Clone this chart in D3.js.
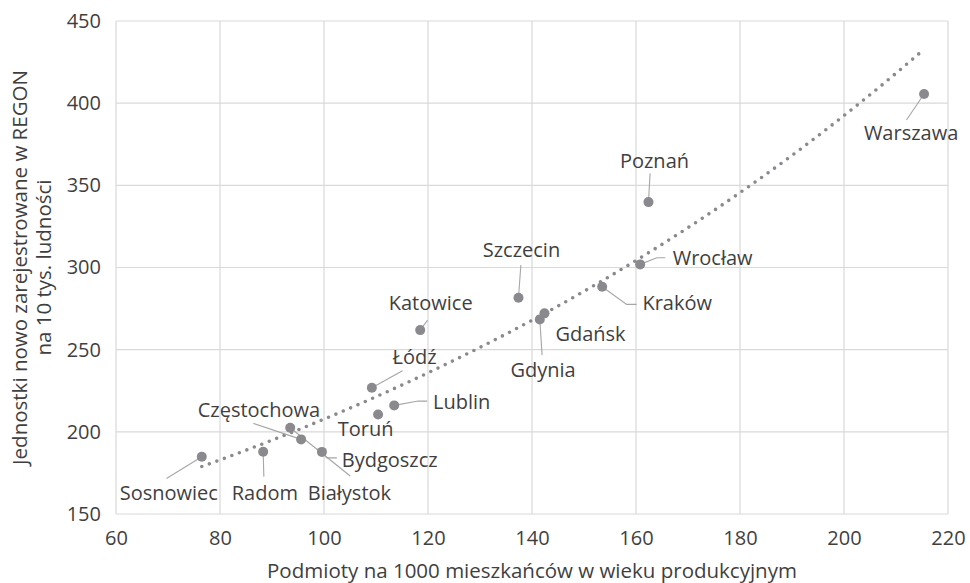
<!DOCTYPE html>
<html lang="pl">
<head>
<meta charset="utf-8">
<script src="https://cdn.jsdelivr.net/npm/d3@7"></script>
<style>
  html, body { margin: 0; padding: 0; background: #ffffff; }
  svg { display: block; font-family: "Open Sans", "Noto Sans", sans-serif; }
</style>
</head>
<body>
<svg id="chart" width="970" height="583"></svg>
<script>
// Cities and their values
const cities = ["Warszawa", "Poznań", "Wrocław", "Kraków", "Gdańsk", "Gdynia", "Szczecin",
  "Katowice", "Łódź", "Lublin", "Toruń", "Bydgoszcz", "Białystok", "Częstochowa", "Radom", "Sosnowiec"];
// Podmioty na 1000 mieszkańców w wieku produkcyjnym
const entitiesPer1000 = [215.4, 162.4, 160.8, 153.5, 142.4, 141.5, 137.4,
  118.5, 109.2, 113.5, 110.4, 99.6, 93.5, 95.6, 88.3, 76.5];
// Jednostki nowo zarejestrowane w REGON na 10 tys. ludności
const newRegonPer10k = [405.6, 339.8, 301.9, 288.3, 272.1, 268.4, 281.6,
  261.9, 226.8, 216.1, 210.6, 187.8, 202.5, 195.4, 187.9, 184.8];

const xTicks = [60, 80, 100, 120, 140, 160, 180, 200, 220];
const yTicks = [150, 200, 250, 300, 350, 400, 450];

const xTitle = "Podmioty na 1000 mieszkańców w wieku produkcyjnym";
const yTitleLines = ["Jednostki nowo zarejestrowane w REGON", "na 10 tys. ludności"];

// Label placement (pixel offsets from the point) and leader-line bends
const labelLayout = {
  "Warszawa":    { dx: -13,  dy: 39,   leader: [[-17.6, 26]] },
  "Poznań":      { dx: 6,    dy: -42,  leader: [[1.6, -28.7]] },
  "Wrocław":     { dx: 72.5, dy: -7,   leader: [[25, -6.6], [16.7, -6.6]] },
  "Kraków":      { dx: 75,   dy: 16,   leader: [[34.4, 17.6], [24.4, 17.6]] },
  "Gdańsk":      { dx: 46,   dy: 20,   leader: null },
  "Gdynia":      { dx: 3.3,  dy: 49.7, leader: [[2.3, 35.7]] },
  "Szczecin":    { dx: 3,    dy: -48.4,leader: [[2.4, -32.7]] },
  "Katowice":    { dx: 10.5, dy: -27.3,leader: [[7.4, -10]] },
  "Łódź":        { dx: 42.7, dy: -31,  leader: [[30.7, -17]] },
  "Lublin":      { dx: 67.4, dy: -4.3, leader: [[33, -4.3], [24, -4.3]] },
  "Toruń":       { dx: -12.5,dy: 14,   leader: null },
  "Bydgoszcz":   { dx: 67.8, dy: 7.7,  leader: [[15, 6], [5, 6]] },
  "Białystok":   { dx: 59.2, dy: 65,   leader: [[60, 48.3]] },
  "Częstochowa": { dx: -42.2,dy: -30,  leader: [[-47.7, -16]] },
  "Radom":       { dx: 1.7,  dy: 41,   leader: [[0.7, 25]] },
  "Sosnowiec":   { dx: -33,  dy: 36,   leader: [[-35.3, 21.6]] }
};

const textColor = "#3f3f3f";
const gridColor = "#d9d9d9";
const pointColor = "#8a8a8e";
const leaderColor = "#a6a6a6";
const fontSize = 20;

const svg = d3.select("#chart");
const margin = { left: 116, right: 22, top: 21, bottom: 69 };
const W = 970, H = 583;

const x = d3.scaleLinear().domain([60, 220]).range([margin.left, W - margin.right]);
const y = d3.scaleLinear().domain([150, 450]).range([H - margin.bottom, margin.top]);

// Gridlines
const grid = svg.append("g");
grid.selectAll("line.v").data(xTicks).join("line")
  .attr("x1", d => x(d)).attr("x2", d => x(d))
  .attr("y1", y(450)).attr("y2", y(150))
  .attr("stroke", gridColor).attr("stroke-width", 1.2);
grid.selectAll("line.h").data(yTicks).join("line")
  .attr("x1", x(60)).attr("x2", x(220))
  .attr("y1", d => y(d)).attr("y2", d => y(d))
  .attr("stroke", gridColor).attr("stroke-width", 1.2);

// Axes (tick labels only)
const xAxis = svg.append("g").attr("transform", `translate(0,${y(150)})`)
  .call(d3.axisBottom(x).tickValues(xTicks).tickSize(0).tickPadding(17));
const yAxis = svg.append("g").attr("transform", `translate(${x(60)},0)`)
  .call(d3.axisLeft(y).tickValues(yTicks).tickSize(0).tickPadding(15));
[xAxis, yAxis].forEach(a => {
  a.select(".domain").remove();
  a.selectAll("text").attr("fill", textColor)
    .style("font-size", fontSize + "px").style("font-family", "'Open Sans', sans-serif");
});

// Exponential trendline fitted to the data (least squares on ln y)
const n = cities.length;
const mx = d3.mean(entitiesPer1000);
const ml = d3.mean(newRegonPer10k, v => Math.log(v));
let sxy = 0, sxx = 0;
for (let i = 0; i < n; i++) {
  const dxv = entitiesPer1000[i] - mx;
  sxy += dxv * (Math.log(newRegonPer10k[i]) - ml);
  sxx += dxv * dxv;
}
const b = sxy / sxx;
const a = Math.exp(ml - b * mx);
const [xmin, xmax] = d3.extent(entitiesPer1000);
const trend = d3.range(0, 101).map(k => {
  const xv = xmin + (xmax - xmin) * k / 100;
  return [xv, a * Math.exp(b * xv)];
});
svg.append("path")
  .datum(trend)
  .attr("d", d3.line().x(d => x(d[0])).y(d => y(d[1])))
  .attr("fill", "none")
  .attr("stroke", pointColor)
  .attr("stroke-width", 3.6)
  .attr("stroke-linecap", "round")
  .attr("stroke-dasharray", "0 8");

const data = cities.map((c, i) => ({ city: c, xv: entitiesPer1000[i], yv: newRegonPer10k[i] }));

// Leader lines
svg.append("g").selectAll("path")
  .data(data.filter(d => labelLayout[d.city].leader))
  .join("path")
  .attr("d", d => {
    const px = x(d.xv), py = y(d.yv);
    const pts = labelLayout[d.city].leader.map(p => [px + p[0], py + p[1]]);
    pts.push([px, py]);
    return d3.line()(pts);
  })
  .attr("fill", "none")
  .attr("stroke", leaderColor)
  .attr("stroke-width", 1.1);

// Points
svg.append("g").selectAll("circle")
  .data(data).join("circle")
  .attr("cx", d => x(d.xv)).attr("cy", d => y(d.yv))
  .attr("r", 5)
  .attr("fill", pointColor);

// Data labels
svg.append("g").selectAll("text")
  .data(data).join("text")
  .attr("x", d => x(d.xv) + labelLayout[d.city].dx)
  .attr("y", d => y(d.yv) + labelLayout[d.city].dy)
  .attr("text-anchor", "middle")
  .attr("dominant-baseline", "central")
  .attr("fill", textColor)
  .style("font-size", fontSize + "px")
  .text(d => d.city);

// Axis titles
svg.append("text")
  .attr("x", (x(60) + x(220)) / 2).attr("y", 570)
  .attr("text-anchor", "middle").attr("dominant-baseline", "central")
  .attr("fill", textColor).style("font-size", "20.5px")
  .text(xTitle);

const yMid = (y(150) + y(450)) / 2;
svg.append("g").selectAll("text")
  .data(yTitleLines).join("text")
  .attr("transform", (d, i) => `translate(${i === 0 ? 19 : 43},${yMid}) rotate(-90)`)
  .attr("text-anchor", "middle").attr("dominant-baseline", "central")
  .attr("fill", textColor).style("font-size", "20.5px")
  .text(d => d);
</script>
</body>
</html>
